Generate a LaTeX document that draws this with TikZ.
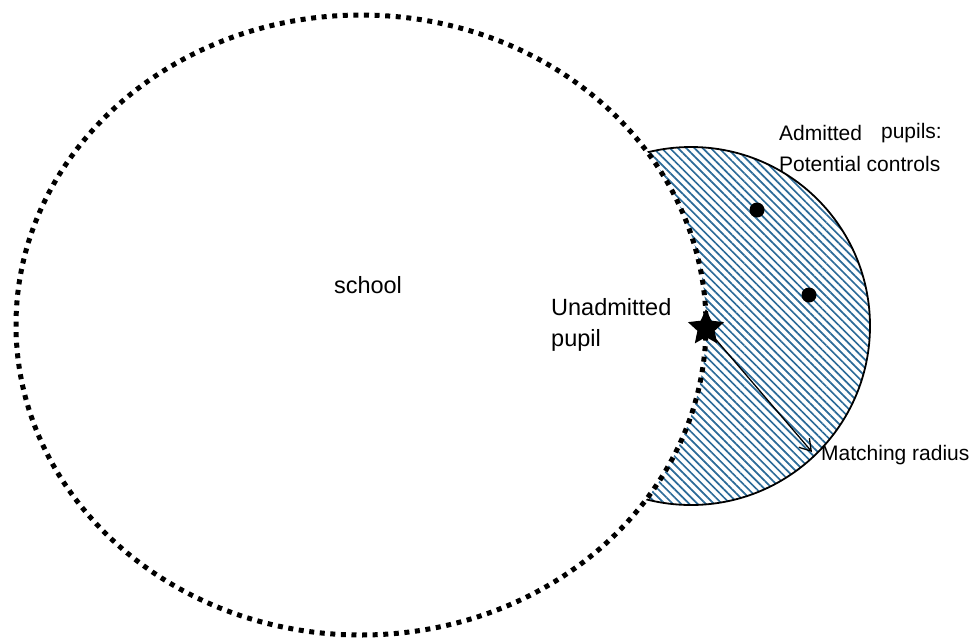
\documentclass[tikz,border=0pt]{standalone}
\usepackage{fontspec}
\setmainfont{Liberation Sans}
\usetikzlibrary{shapes.geometric,arrows.meta,patterns.meta}
\definecolor{hatchblue}{HTML}{2B6A98}
\tikzset{
  lbl/.style={font=\fontsize{21}{31}\selectfont, inner sep=0pt},
  biglbl/.style={font=\fontsize{23.5}{31}\selectfont, inner sep=0pt},
  ctrl/.style={circle, fill=black, minimum size=15pt, inner sep=0pt},
}
\begin{document}
\begin{tikzpicture}[x=1pt,y=-1pt]
\useasboundingbox (0,0) rectangle (974,643);
% hatched catchment circle
\begin{scope}
\clip (691,326) circle (179);
\fill[white] (691,326) circle (179);
\fill[pattern={Lines[angle=-45,distance=5.8pt,line width=1.7pt]}, pattern color=hatchblue] (691,326) circle (179);
\end{scope}
\draw[line width=1.8pt] (691,326) circle (179);
% school ellipse
\fill[white] (361,325) ellipse [x radius=345, y radius=310];
\draw[line width=5pt, dash pattern=on 5pt off 5.6pt] (361,325) ellipse [x radius=345, y radius=310];
% labels
\node[biglbl] (school) at (368,285) {school};
\node[biglbl, anchor=west, align=left] (unad) at (551,325) {Unadmitted\\pupil};
\node[lbl, anchor=west] (adm) at (779,133) {Admitted};
\node[lbl, anchor=east] (pup) at (942,133) {pupils:};
\node[lbl, anchor=west] (pot) at (779,164) {Potential controls};
\node[lbl, anchor=west] (mr) at (821,455) {Matching radius};
% controls
\node[ctrl] (c1) at (757,210) {};
\node[ctrl] (c2) at (809,295) {};
% unadmitted pupil
\node[star, star points=5, star point ratio=2.1, fill=black, minimum size=38pt, inner sep=0pt] (s) at (706,328) {};
\coordinate (r) at (812,452);
\draw[line width=1.3pt, -{Straight Barb[length=11pt,width=14pt]}] (s.center) -- (r);
\end{tikzpicture}
\end{document}
